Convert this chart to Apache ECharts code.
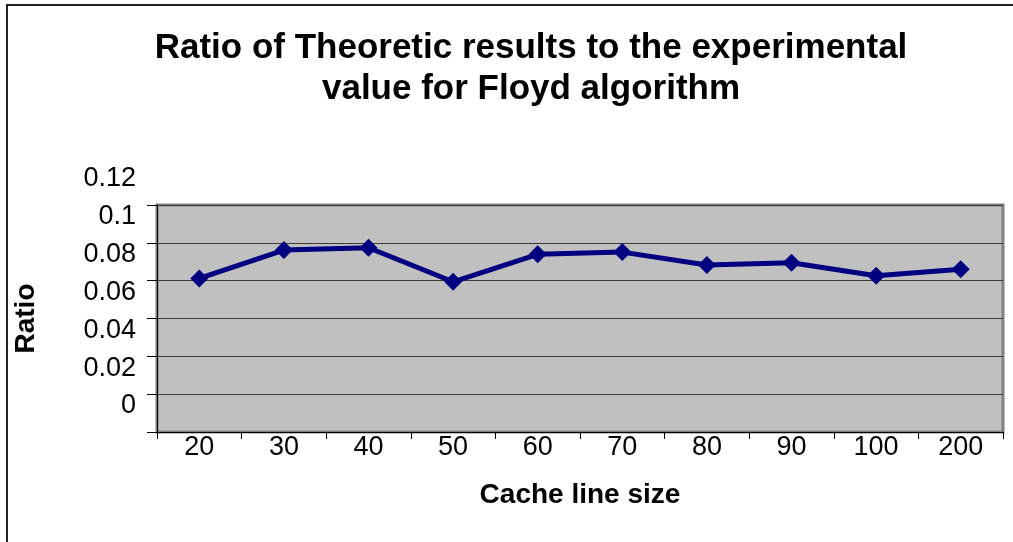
<!DOCTYPE html>
<html>
<head>
<meta charset="utf-8">
<script src="https://cdn.jsdelivr.net/npm/echarts@6/dist/echarts.min.js"></script>
<style>
  html, body { margin: 0; padding: 0; background: #fff; }
  #chart { width: 1013px; height: 542px; }
</style>
</head>
<body>
<div id="chart"></div>
<script>
// cache line sizes on the x axis
const cacheSizes = ['20', '30', '40', '50', '60', '70', '80', '90', '100', '200']
// ratio theoretic / experimental
const ratios = [0.0812, 0.0962, 0.0974, 0.0794, 0.0939, 0.0951, 0.0883, 0.0895, 0.0826, 0.086]
const yMin = 0
const yMax = 0.12
const yStep = 0.02

const chart = echarts.init(document.getElementById('chart'))
const font = 'Arial, "Liberation Sans", sans-serif'

chart.setOption({
  backgroundColor: '#ffffff',
  animation: false,
  title: {
    text: 'Ratio of Theoretic results to the experimental\nvalue for Floyd algorithm',
    left: 526,
    top: 23,
    textAlign: 'center',
    textStyle: {
      fontFamily: font,
      fontWeight: 'bold',
      fontSize: 35,
      lineHeight: 41,
      color: '#000'
    }
  },
  graphic: [{
    type: 'rect',
    shape: { x: 7, y: 5, width: 1020, height: 560 },
    style: { fill: null, stroke: '#222', lineWidth: 2 },
    silent: true
  }],
  grid: [{
    left: 157,
    right: 10,
    top: 205,
    bottom: 110,
    show: true,
    backgroundColor: '#c0c0c0',
    borderColor: '#808080',
    borderWidth: 3
  }, {
    // label-only copy of the plot, the original prints its y labels
    // about 26px above the grid lines
    left: 157,
    right: 10,
    top: 179,
    bottom: 136,
    show: false
  }],
  xAxis: [{
    type: 'category',
    data: cacheSizes,
    boundaryGap: true,
    name: 'Cache line size',
    nameLocation: 'middle',
    nameGap: 49,
    nameTextStyle: { fontFamily: font, fontWeight: 'bold', fontSize: 28, color: '#000' },
    axisLine: { lineStyle: { color: '#000', width: 1 } },
    axisTick: { show: true, length: 7, lineStyle: { color: '#000' } },
    axisLabel: { fontFamily: font, fontSize: 27, color: '#000', margin: 2 },
    splitLine: { show: false }
  }, {
    type: 'category',
    gridIndex: 1,
    data: cacheSizes,
    show: false
  }],
  yAxis: [{
    type: 'value',
    min: yMin,
    max: yMax,
    interval: yStep,
    name: 'Ratio',
    nameLocation: 'middle',
    nameGap: 117,
    nameTextStyle: { fontFamily: font, fontWeight: 'bold', fontSize: 28, color: '#000' },
    axisLine: { show: true, lineStyle: { color: '#000', width: 1 } },
    axisTick: { show: true, length: 10, lineStyle: { color: '#000' } },
    axisLabel: { show: false },
    splitLine: { show: true, lineStyle: { color: '#3c3c3c', width: 1 } }
  }, {
    type: 'value',
    gridIndex: 1,
    min: yMin,
    max: yMax,
    interval: yStep,
    axisLine: { show: false },
    axisTick: { show: false },
    splitLine: { show: false },
    axisLabel: {
      fontFamily: font,
      fontSize: 27,
      color: '#000',
      margin: 21,
      showMinLabel: true,
      showMaxLabel: true
    }
  }],
  series: [{
    name: 'Ratio',
    type: 'line',
    data: ratios,
    symbol: 'diamond',
    symbolSize: 18,
    lineStyle: { color: '#000080', width: 5 },
    itemStyle: { color: '#000080' }
  }]
})
</script>
</body>
</html>
